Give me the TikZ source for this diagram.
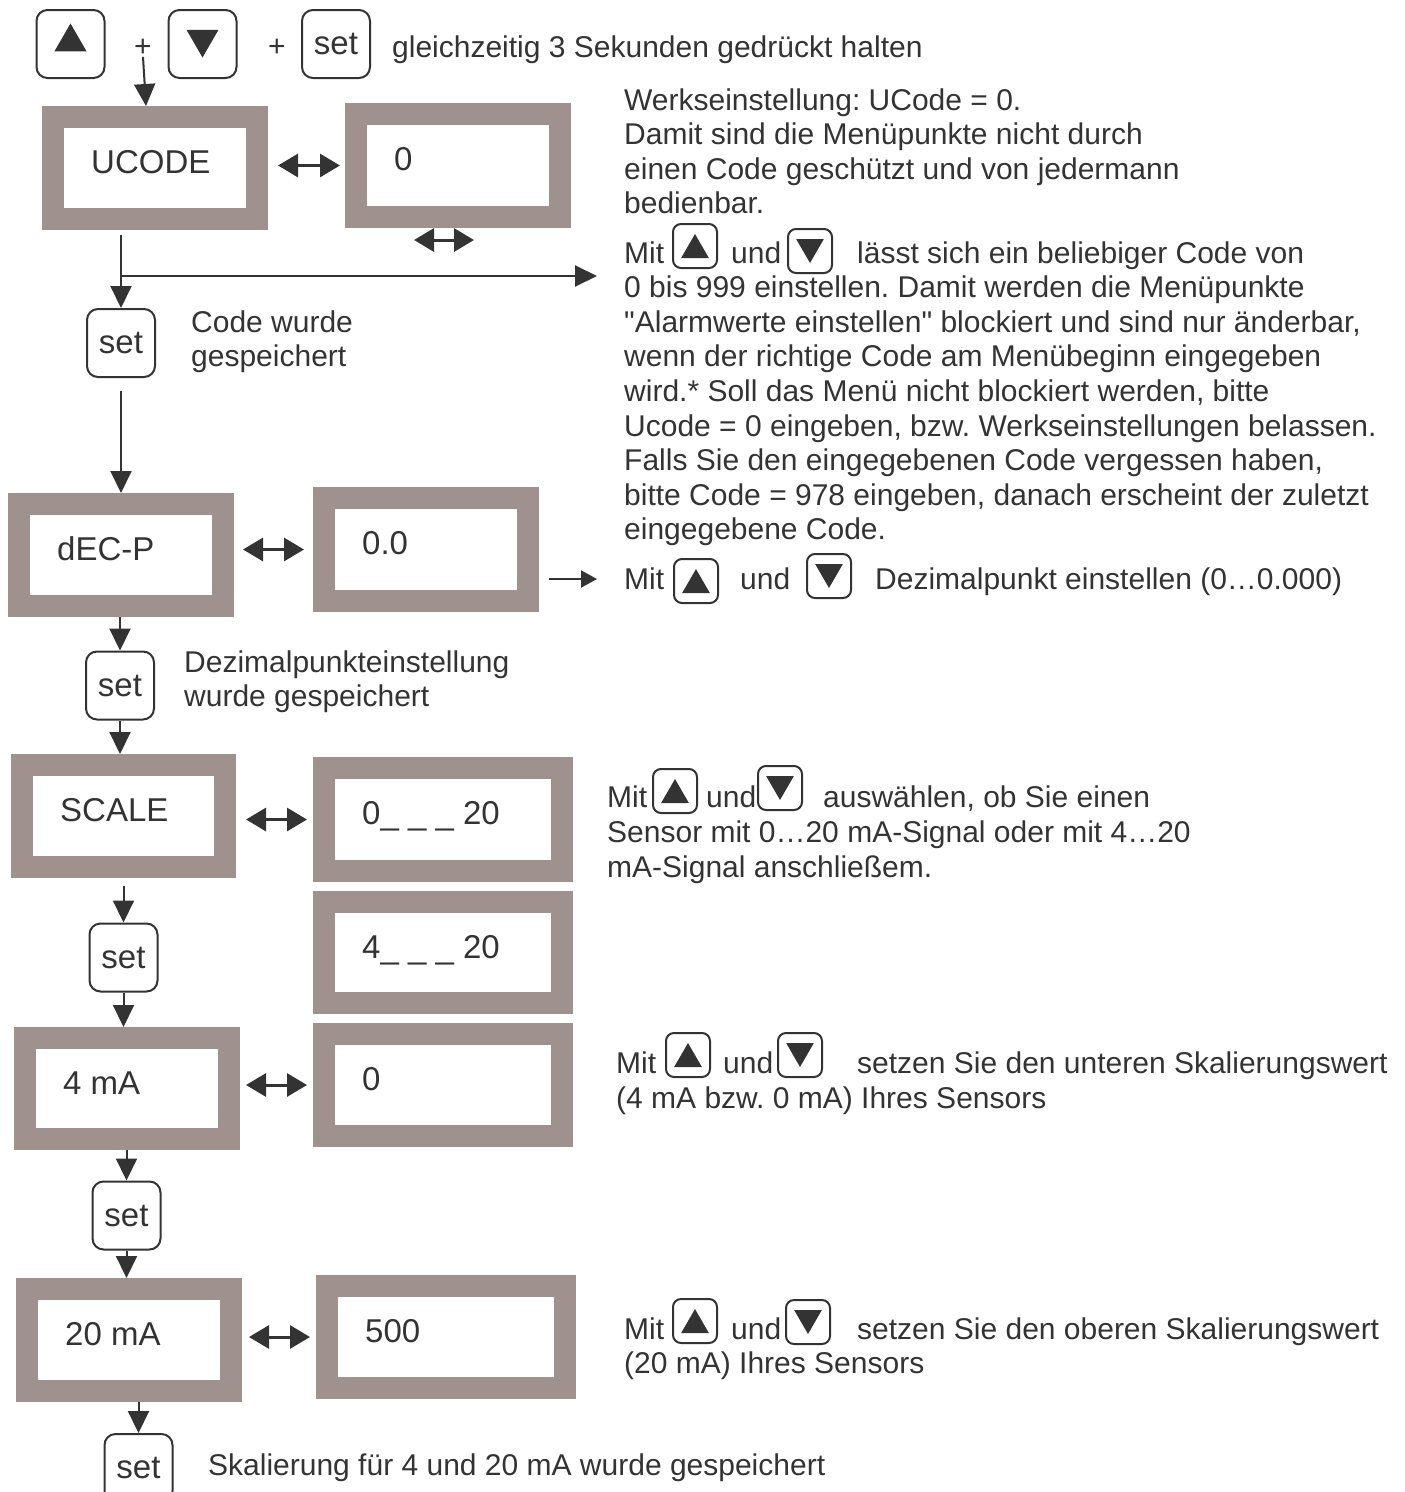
\documentclass[tikz,border=0pt]{standalone}
\usepackage{fontspec}
\setmainfont{Liberation Sans}
\usetikzlibrary{arrows.meta,shapes.geometric,positioning,calc}
\definecolor{ink}{HTML}{333333}
\definecolor{frame}{RGB}{159,145,141}
\frenchspacing
\tikzset{
  txt/.style={font=\fontsize{30}{35}\selectfont, text=ink, anchor=base west, inner sep=0pt},
  lbl/.style={font=\fontsize{33}{38}\selectfont, text=ink, anchor=base west, inner sep=0pt},
  disp/.style={draw=frame, line width=22pt, fill=white, inner sep=0pt, outer sep=11pt},
  btn/.style={draw=ink, line width=2pt, rounded corners=#1, fill=white, inner sep=0pt},
  setbtn/.style={btn=11pt, minimum size=68pt, font=\fontsize{33}{38}\selectfont, text=ink},
  tup/.style={regular polygon, regular polygon sides=3, fill=ink, inner sep=0pt, minimum size=#1},
  tdn/.style={tup=#1, shape border rotate=180},
  arr/.style={draw=ink, line width=2pt, -{Triangle[length=22pt,width=21pt]}},
  arrs/.style={draw=ink, line width=2pt, -{Triangle[length=16pt,width=17pt]}},
  dbl/.style={draw=ink, line width=3pt, {Triangle[length=20pt,width=23pt]}-{Triangle[length=20pt,width=23pt]}}
}

\begin{document}
\begin{tikzpicture}[x=1pt, y=-1pt]
\useasboundingbox (0,0) rectangle (1405,1492);

% keys on top
\node[btn=11pt, minimum size=68pt] (kup) at (70.5,44) {};
\node[tup=37pt, yshift=2pt] (kup-s) at (kup) {};
\node[btn=11pt, minimum size=68pt] (kdn) at (202.5,44) {};
\node[tdn=37pt, yshift=5pt] (kdn-s) at (kdn) {};
\node[setbtn] (kset) at (336,44) {set};
\node[txt, anchor=center] (plus1) at (143,48) {+};
\node[txt, anchor=center] (plus2) at (277,48) {+};

% displays
\foreach \nm/\xa/\ya/\xb/\yb/\txt in {
    ucode/42/106/268/230/UCODE,
    uval/345/103/571/228/0,
    decp/8/493/234/617/dEC-P,
    dval/313/487/539/612/0.0,
    scale/11/754/236/878/SCALE,
    sval/313/757/573/882/{0\_ \_ \_ 20},
    sval2/313/891/573/1014/{4\_ \_ \_ 20},
    ma4/14/1027/240/1150/4 mA,
    ma4v/313/1023/573/1147/0,
    ma20/16/1278/242/1402/20 mA,
    ma20v/316/1275/576/1399/500}{
  \node[disp, minimum width={(\xb-\xa-22)*1pt}, minimum height={(\yb-\ya-22)*1pt}] (\nm) at ({(\xa+\xb)/2},{(\ya+\yb)/2}) {};
  \node[lbl] (\nm-t) at ([xshift=49pt,yshift=-67pt]\nm.north west) {\txt};
}

% set keys
\foreach \nm/\x/\y in {set1/121/343, set2/120/685.5, set3/123.5/957.5, set4/126.5/1215.5, set5/138.5/1468}
  \node[setbtn] (\nm) at (\x,\y) {set};

% flow
\draw[arr] (plus1.south) -- ([xshift=-9pt]ucode.north);
\draw[arr, shorten <=5pt] (set1.north |- ucode.south) -- (set1.north);
\coordinate (c1) at (597,276);
\draw[arr] (set1.north |- c1) -- (c1);
\draw[arr, shorten <=13pt] (set1.south) -- (set1.south |- decp.north);
\draw[arr] (set2.north |- decp.south) -- (set2.north);
\draw[arr] (set2.south) -- (set2.south |- scale.north);
\draw[arr, shorten <=8pt] (set3.north |- scale.south) -- (set3.north);
\draw[arr] (set3.south) -- (set3.south |- ma4.north);
\draw[arr] (set4.north |- ma4.south) -- (set4.north);
\draw[arr] (set4.south) -- (set4.south |- ma20.north);
\draw[arr] (set5.north |- ma20.south) -- (set5.north);
\coordinate (c4) at (597,579);
\draw[arrs, shorten <=10pt] (dval.east |- c4) -- (c4);

% toggles
\draw[dbl, shorten <=10pt, shorten >=5pt] (uval.west -| ucode.east) -- (uval.west);
\coordinate (c2) at (414,240);
\coordinate (c3) at (474,240);
\draw[dbl] (c2) -- (c3);
\draw[dbl, shorten <=9pt, shorten >=9pt] (dval.west -| decp.east) -- (dval.west);
\draw[dbl, shorten <=10pt, shorten >=6pt] (sval.west -| scale.east) -- (sval.west);
\draw[dbl, shorten <=6pt, shorten >=6pt] (ma4v.west -| ma4.east) -- (ma4v.west);
\draw[dbl, shorten <=7pt, shorten >=6pt] (ma20v.west -| ma20.east) -- (ma20v.west);

% rows with up/down keys
\foreach \r/\mx/\y/\ux/\uy/\ax/\dx/\dy/\tx/\t in {
    a/624/263/695/246/731/810/251/857/{lässt sich ein beliebiger Code von},
    b/624/589/696/581/740/829/576/875/{Dezimalpunkt einstellen (0…0.000)},
    c/607/807/675/791/706/780/788/823/{auswählen, ob Sie einen},
    d/616/1073/688/1055/723/800/1055/857/{setzen Sie den unteren Skalierungswert},
    e/624/1339/695/1321/731/808/1322/857/{setzen Sie den oberen Skalierungswert}}{
  \node[txt] (mit\r) at (\mx,\y) {Mit};
  \node[btn=8pt, minimum size=44pt] (up\r) at (\ux,\uy) {};
  \node[tup=32pt, yshift=-4pt] (up\r-s) at (up\r) {};
  \node[txt] (und\r) at (\ax,\y) {und};
  \node[btn=8pt, minimum size=44pt] (dn\r) at (\dx,\dy) {};
  \node[tdn=32pt, yshift=4pt] (dn\r-s) at (dn\r) {};
  \node[txt] (tx\r) at (\tx,\y) {\t};
}

% notes
\foreach \x/\y/\t [count=\i] in {
    392/57/{gleichzeitig 3 Sekunden gedrückt halten},
    624/110/{Werkseinstellung: UCode = 0.},
    624/144.6/{Damit sind die Menüpunkte nicht durch},
    624/179.2/{einen Code geschützt und von jedermann},
    624/213.8/{bedienbar.},
    624/297.6/{0 bis 999 einstellen. Damit werden die Menüpunkte},
    624/332.2/{\textquotedbl Alarmwerte einstellen\textquotedbl{} blockiert und sind nur änderbar,},
    624/366.8/{wenn der richtige Code am Menübeginn eingegeben},
    624/401.4/{wird.* Soll das Menü nicht blockiert werden, bitte},
    624/436/{Ucode = 0 eingeben, bzw. Werkseinstellungen belassen.},
    624/470.6/{Falls Sie den eingegebenen Code vergessen haben,},
    624/505.2/{bitte Code = 978 eingeben, danach erscheint der zuletzt},
    624/539.8/{eingegebene Code.},
    191/332/{Code wurde},
    191/366/{gespeichert},
    184/672/{Dezimalpunkteinstellung},
    184/706/{wurde gespeichert},
    607/842/{Sensor mit 0…20 mA-Signal oder mit 4…20},
    607/877/{mA-Signal anschließem.},
    616/1108/{(4 mA bzw. 0 mA) Ihres Sensors},
    624/1373/{(20 mA) Ihres Sensors},
    208/1475/{Skalierung für 4 und 20 mA wurde gespeichert}}{
  \node[txt] (n\i) at (\x,\y) {\t};
}
\end{tikzpicture}
\end{document}
